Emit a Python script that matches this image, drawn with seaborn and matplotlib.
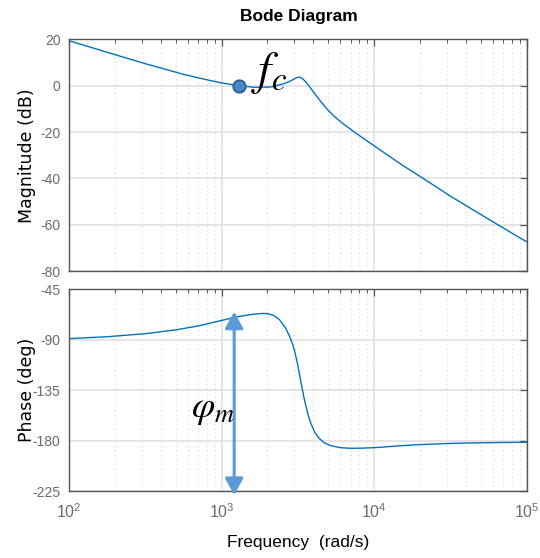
import numpy as np
import pandas as pd
import matplotlib
matplotlib.use("Agg")
import matplotlib.pyplot as plt
from matplotlib import font_manager
from matplotlib.ticker import LogLocator, FixedLocator, NullFormatter
import seaborn as sns

# ---------------- data ----------------
mag_freq = [100, 178, 316, 562, 794, 1000, 1306, 1633, 2089, 2570, 2831, 2951,
            3090, 3199, 3296, 3428, 3631, 3890, 4169, 4467, 4943, 5495, 6039,
            7379, 10139, 14928, 20184, 31769, 52481, 84528, 100000]
mag_db = [19.4, 14.4, 9.5, 4.9, 2.6, 1.2, 0.0, -0.7, -0.6, 0.9, 2.0, 2.7,
          3.4, 3.65, 3.55, 2.8, 1.0, -1.6, -4.3, -6.8, -10.3, -13.3, -15.6,
          -19.9, -26.2, -33.8, -39.3, -47.7, -56.4, -64.5, -67.3]

phase_freq = [100, 178, 316, 501, 708, 1000, 1259, 1585, 1820, 1995, 2188, 2399,
              2630, 2786, 2917, 3020, 3141, 3251, 3357, 3467, 3565, 3698, 3846,
              4074, 4355, 4732, 5200, 6026, 7031, 8318, 10139, 14125, 19231,
              28184, 40832, 63096, 100000]
phase_deg = [-88.8, -87.1, -84.4, -81.0, -77.4, -72.6, -69.4, -67.2, -66.4,
             -66.5, -68.0, -72.0, -79.5, -86.5, -93.5, -100.5, -110.8, -121.5,
             -131.6, -141.3, -148.5, -157.0, -164.3, -172.0, -177.6, -181.8,
             -184.2, -186.0, -186.5, -186.4, -185.9, -184.5, -183.3, -182.4,
             -181.8, -181.4, -181.1]

fc_freq = [1306]
fc_db = [0.0]

mag_ticks = [20, 0, -20, -40, -60, -80]
phase_ticks = [-45, -90, -135, -180, -225]
x_ticks = [1e2, 1e3, 1e4, 1e5]
x_labels = [r"$\mathregular{10^{2}}$", r"$\mathregular{10^{3}}$",
            r"$\mathregular{10^{4}}$", r"$\mathregular{10^{5}}$"]

title = "Bode Diagram"
mag_label = "Magnitude (dB)"
phase_label = "Phase (deg)"
freq_label = "Frequency  (rad/s)"

mag_df = pd.DataFrame({"freq": mag_freq, "mag": mag_db})
phase_df = pd.DataFrame({"freq": phase_freq, "phase": phase_deg})
fc_df = pd.DataFrame({"freq": fc_freq, "mag": fc_db})

# ---------------- style ----------------
sns.set_style("white")
names = {f.name for f in font_manager.fontManager.ttflist}
narrow = "Liberation Sans Narrow" if "Liberation Sans Narrow" in names else "Liberation Sans"
plt.rcParams["font.family"] = [narrow, "Liberation Sans", "DejaVu Sans"]
plt.rcParams["mathtext.fontset"] = "stix"

LINE = "#0072BD"
TICKLAB = "#6b6b6b"
SPINE = "#555555"

fig = plt.figure(figsize=(5.4, 5.58), dpi=100)
ax1 = fig.add_axes([0.1276, 0.5138, 0.848, 0.4158])
ax2 = fig.add_axes([0.1276, 0.1192, 0.848, 0.362])

sns.lineplot(data=mag_df, x="freq", y="mag", ax=ax1, color=LINE, linewidth=1.0,
             estimator=None, sort=False)
sns.lineplot(data=phase_df, x="freq", y="phase", ax=ax2, color=LINE, linewidth=1.0,
             estimator=None, sort=False)
sns.scatterplot(data=fc_df, x="freq", y="mag", ax=ax1, s=80, color="#4a86c6",
                edgecolor="#2f5f99", linewidth=1.3, zorder=5)

for ax, yt, ylim in ((ax1, mag_ticks, (-80, 20)), (ax2, phase_ticks, (-225, -45))):
    ax.set_xscale("log")
    ax.set_xlim(1e2, 1e5)
    ax.set_ylim(*ylim)
    ax.yaxis.set_major_locator(FixedLocator(yt))
    ax.set_yticklabels([str(v) for v in yt])
    ax.xaxis.set_major_locator(FixedLocator(x_ticks))
    ax.xaxis.set_minor_locator(LogLocator(base=10, subs=np.arange(2, 10)))
    ax.xaxis.set_minor_formatter(NullFormatter())
    ax.set_xlabel("")
    ax.set_ylabel("")
    ax.grid(which="major", color="#e2e2e2", linewidth=1.2, linestyle="-")
    ax.grid(which="minor", axis="x", color="#d4d4d4", linewidth=0.8,
            linestyle=(0, (1, 3)))
    ax.set_axisbelow(True)
    ax.tick_params(which="both", direction="in", top=True, right=True,
                   color=SPINE, labelcolor=TICKLAB)
    ax.tick_params(which="major", length=5, width=0.9)
    ax.tick_params(which="minor", length=3, width=0.7)
    ax.tick_params(axis="y", labelsize=10, pad=6)
    for sp in ax.spines.values():
        sp.set_color(SPINE)
        sp.set_linewidth(1.0)

ax1.tick_params(labelbottom=False)
ax2.set_xticklabels(x_labels)
ax2.tick_params(axis="x", labelsize=11.5, pad=8)

# annotations
ax1.text(1560, 0.9, r"$f_c$", fontsize=34, ha="left", va="baseline", color="black",
         zorder=6)
ax2.annotate("", xy=(1210, -64.8), xytext=(1210, -228.1),
             arrowprops=dict(arrowstyle="<|-|>,head_length=1.0,head_width=0.55",
                             color="#5B9BD5", lw=2.2, shrinkA=0, shrinkB=0),
             annotation_clip=False, zorder=6)
ax2.text(630, -158.5, r"$\varphi_m$", fontsize=27, ha="left", va="baseline",
         color="black", zorder=6)

# labels
fig.text(0.5528, 1 - 17 / 558, title, ha="center", va="center",
         fontsize=12.5, fontweight="bold", color="black")
fig.text(26.5 / 540, 0.7217, mag_label, rotation=90, ha="center", va="center",
         fontsize=12.5, family=["DejaVu Sans"], color="black")
fig.text(26.5 / 540, 0.301, phase_label, rotation=90, ha="center", va="center",
         fontsize=12.5, family=["DejaVu Sans"], color="black")
fig.text(0.5528, 1 - 543 / 558, freq_label, ha="center", va="center",
         fontsize=12.5, color="black")

fig.savefig("out.png", dpi=100)
